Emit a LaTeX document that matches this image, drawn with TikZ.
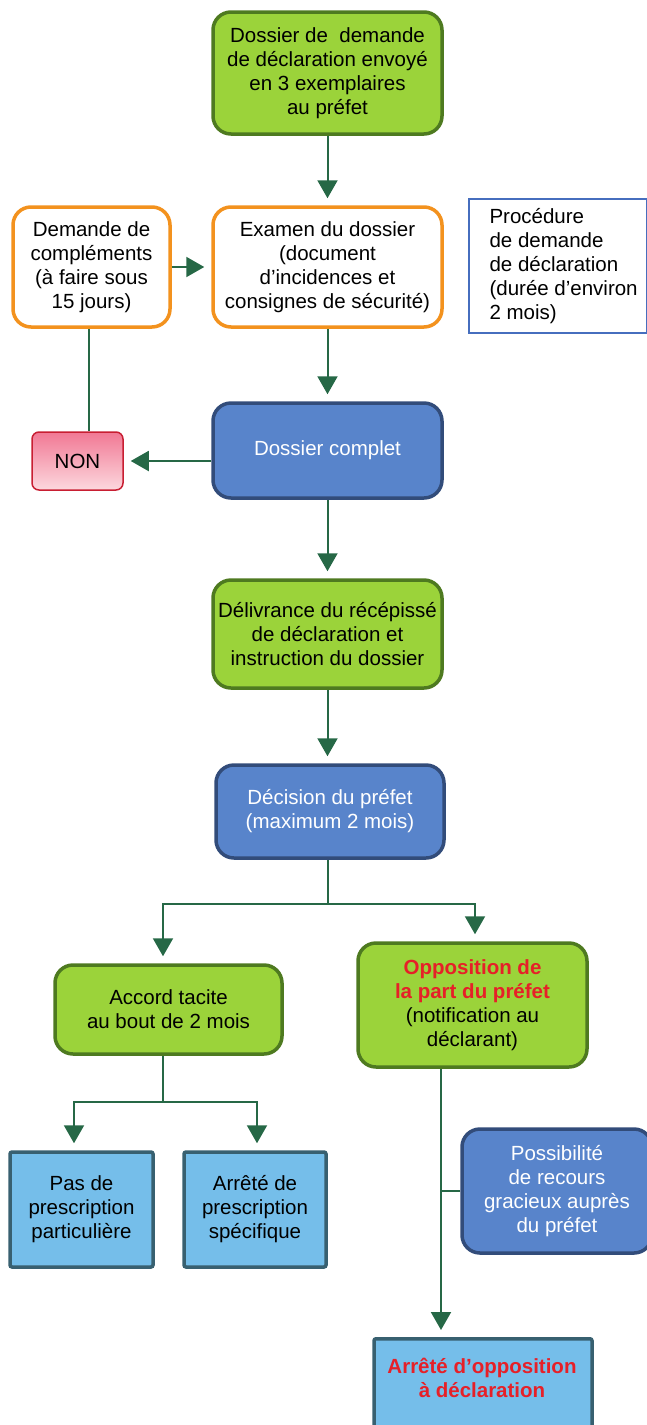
\documentclass[tikz,border=0pt]{standalone}
\usepackage{fontspec}
\setmainfont{Liberation Sans}
\usetikzlibrary{arrows.meta}
\definecolor{leaf}{RGB}{155,211,58}
\definecolor{leafdark}{RGB}{78,122,32}
\definecolor{tangerine}{RGB}{243,146,30}
\definecolor{steel}{RGB}{88,132,203}
\definecolor{steeldark}{RGB}{50,76,122}
\definecolor{sky}{RGB}{117,190,234}
\definecolor{skydark}{RGB}{56,96,112}
\definecolor{pine}{RGB}{38,104,70}
\definecolor{alert}{RGB}{230,32,40}
\definecolor{procblue}{RGB}{70,110,190}
\definecolor{rosetop}{RGB}{241,120,148}
\definecolor{rosebot}{RGB}{252,216,222}
\definecolor{rosedark}{RGB}{200,30,50}
\tikzset{
    boxbase/.style = {align = center, inner sep = 3pt, font = \fontsize{20.5pt}{24pt}\selectfont},
    greenbox/.style = {boxbase, fill = leaf, draw = leafdark, line width = 3.5pt, rounded corners = 18pt},
    orangebox/.style = {boxbase, fill = white, draw = tangerine, line width = 3.5pt, rounded corners = 18pt},
    bluebox/.style = {boxbase, fill = steel, draw = steeldark, line width = 3.5pt, rounded corners = 18pt, text = white},
    skybox/.style = {boxbase, fill = sky, draw = skydark, line width = 3.5pt, rounded corners = 2pt},
    nonbox/.style = {boxbase, top color = rosetop, bottom color = rosebot, draw = rosedark, line width = 1.5pt, rounded corners = 7pt},
    procbox/.style = {fill = white, draw = procblue, line width = 1.3pt},
    conn/.style = {draw = pine, line width = 2pt},
    arr/.style = {conn, -{Triangle[width = 20pt, length = 18pt]}, shorten > = 7pt}
}
\begin{document}
\begin{tikzpicture}[x = 1pt, y = -1pt]
    \useasboundingbox (0,0) rectangle (647,1425);
    \clip (0,0) rectangle (647,1425);
    % boxes
    \node[greenbox, minimum width = 229pt, minimum height = 122pt] (envoi) at (327.5,73) {Dossier de\ \ demande\\de déclaration envoyé\\en 3 exemplaires\\au préfet};
    \node[orangebox, minimum width = 157pt, minimum height = 120pt] (compl) at (91.5,267) {Demande de\\compléments\\(à faire sous\\15 jours)};
    \node[orangebox, minimum width = 229pt, minimum height = 120pt] (exam) at (327.5,267) {Examen du dossier\\(document\\d’incidences et\\consignes de sécurité)};
    \node[procbox, minimum width = 178pt, minimum height = 134pt] (proc) at (558,266) {};
    \node[boxbase, align = left, anchor = west, inner sep = 0pt] (proctxt) at ([xshift = 21pt]proc.west) {Procédure\\de demande\\de déclaration\\(durée d’environ\\2 mois)};
    \node[bluebox, minimum width = 229pt, minimum height = 95pt] (complet) at (327.5,450.5) {Dossier complet};
    \node[nonbox, minimum width = 91pt, minimum height = 58pt] (non) at (77.5,461) {NON};
    \node[greenbox, minimum width = 229pt, minimum height = 108pt] (deliv) at (327.5,634) {Délivrance du récépissé\\de déclaration et\\instruction du dossier};
    \node[bluebox, minimum width = 228pt, minimum height = 93pt] (decis) at (330,811.5) {Décision du préfet\\(maximum 2 mois)};
    \node[greenbox, minimum width = 227pt, minimum height = 89pt] (accord) at (168.5,1009.5) {Accord tacite\\au bout de 2 mois};
    \node[greenbox, minimum width = 229pt, minimum height = 124pt] (oppos) at (472.5,1005) {\textbf{\color{alert}Opposition de}\\\textbf{\color{alert}la part du préfet}\\(notification au\\déclarant)};
    \node[skybox, minimum width = 143pt, minimum height = 115pt] (pas) at (81.5,1209.5) {Pas de\\prescription\\particulière};
    \node[skybox, minimum width = 142pt, minimum height = 115pt] (arrspec) at (255,1209.5) {Arrêté de\\prescription\\spécifique};
    \node[bluebox, minimum width = 190pt, minimum height = 124pt] (possib) at (557,1191) {Possibilité\\de recours\\gracieux auprès\\du préfet};
    \node[skybox, anchor = north, minimum width = 218pt, minimum height = 130pt] (arrop) at (483,1337) {};
    \node[boxbase, text = alert, font = \fontsize{20.5pt}{24pt}\selectfont\bfseries] (arroptxt) at (482,1378) {Arrêté d’opposition\\à déclaration};
    % connectors
    \draw[arr] (envoi) -- (exam);
    \draw[arr] (compl) -- (exam);
    \draw[arr] (exam) -- (complet);
    \coordinate (complbot) at ([xshift = -3pt]compl.south);
    \draw[conn] (complbot) -- (complbot |- non.north);
    \draw[arr] (non -| complet.west) -- (non.east);
    \draw[arr] (complet) -- (deliv);
    \draw[arr] (deliv.south) -- (deliv.south |- decis.north);
    \coordinate (forka) at (327.5,904);
    \draw[conn] (decis.south -| forka) -- (forka);
    \draw[arr] (forka) -| ([xshift = -5.5pt]accord.north);
    \draw[arr] (forka) -| ([xshift = 2.5pt]oppos.north);
    \coordinate (forkb) at (163,1102);
    \draw[conn] (accord.south -| forkb) -- (forkb);
    \draw[arr] (forkb) -| ([xshift = -7.5pt]pas.north);
    \draw[arr] (forkb) -| ([xshift = 2pt]arrspec.north);
    \coordinate (oppbot) at ([xshift = -31.5pt]oppos.south);
    \draw[arr] (oppbot) -- (oppbot |- arrop.north);
    \draw[conn] (possib.west) -- (possib.west -| oppbot);
\end{tikzpicture}
\end{document}
